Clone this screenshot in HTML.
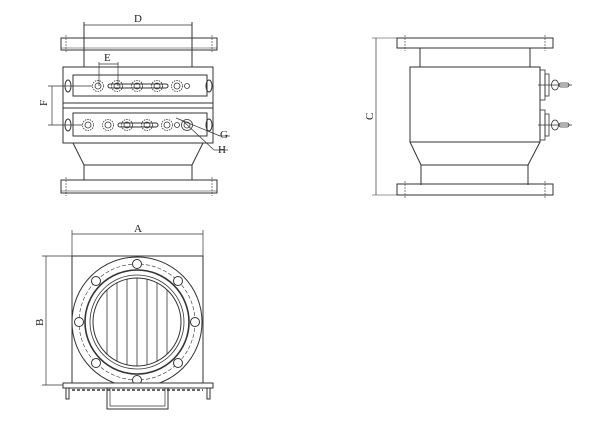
<!DOCTYPE html>
<html><head><meta charset="utf-8"><style>
html,body{margin:0;padding:0;background:#fff;width:600px;height:424px;overflow:hidden}
svg{display:block}
text{font-family:"Liberation Serif",serif;font-size:11px;fill:#222}
</style></head><body>
<svg width="600" height="424" viewBox="0 0 600 424" xmlns="http://www.w3.org/2000/svg">
<g fill="none" stroke="#333" stroke-width="1">
<!-- FRONT VIEW -->
<line x1="84" y1="22" x2="84" y2="67"/><line x1="192" y1="22" x2="192" y2="67"/>
<line x1="84" y1="25" x2="192" y2="25" stroke-width="0.7"/>
<rect x="61" y="38" width="156" height="12"/>
<line x1="66" y1="35" x2="66" y2="53" stroke-dasharray="2,1" stroke-width="0.6"/>
<line x1="212" y1="35" x2="212" y2="53" stroke-dasharray="2,1" stroke-width="0.6"/>
<line x1="61" y1="48" x2="217" y2="48" stroke-width="0.5"/>
<rect x="63" y="67" width="150" height="76"/>
<rect x="73" y="75" width="134" height="21"/>
<line x1="63" y1="103" x2="213" y2="103"/><line x1="63" y1="108" x2="213" y2="108"/>
<rect x="73" y="113" width="134" height="23"/>
<ellipse cx="68" cy="86" rx="3" ry="6"/><ellipse cx="209" cy="86" rx="3" ry="6"/>
<ellipse cx="68" cy="125" rx="3" ry="6"/><ellipse cx="209" cy="125" rx="3" ry="6"/>
<rect x="108" y="84" width="60" height="4" rx="2"/>
<rect x="118" y="123" width="40" height="4" rx="2"/>
<g stroke-width="0.8">
<circle cx="98" cy="86" r="5.5" stroke-dasharray="1.5,1"/><circle cx="98" cy="86" r="3"/>
<circle cx="117" cy="86" r="5.5" stroke-dasharray="1.5,1"/><circle cx="117" cy="86" r="3"/>
<circle cx="137" cy="86" r="5.5" stroke-dasharray="1.5,1"/><circle cx="137" cy="86" r="3"/>
<circle cx="157" cy="86" r="5.5" stroke-dasharray="1.5,1"/><circle cx="157" cy="86" r="3"/>
<circle cx="177" cy="86" r="5.5" stroke-dasharray="1.5,1"/><circle cx="177" cy="86" r="3"/>
<circle cx="187" cy="86" r="2.5"/>
<circle cx="88" cy="125" r="5.5" stroke-dasharray="1.5,1"/><circle cx="88" cy="125" r="3"/>
<circle cx="108" cy="125" r="5.5" stroke-dasharray="1.5,1"/><circle cx="108" cy="125" r="3"/>
<circle cx="127" cy="125" r="5.5" stroke-dasharray="1.5,1"/><circle cx="127" cy="125" r="3"/>
<circle cx="147" cy="125" r="5.5" stroke-dasharray="1.5,1"/><circle cx="147" cy="125" r="3"/>
<circle cx="167" cy="125" r="5.5" stroke-dasharray="1.5,1"/><circle cx="167" cy="125" r="3"/>
<circle cx="177" cy="125" r="2.5"/>
<circle cx="187" cy="125" r="5.5"/><circle cx="187" cy="125" r="3"/>
</g>
<line x1="99" y1="62" x2="99" y2="86" stroke-width="0.7"/><line x1="118" y1="62" x2="118" y2="86" stroke-width="0.7"/>
<line x1="99" y1="64" x2="118" y2="64" stroke-width="0.7"/>
<line x1="52" y1="86" x2="52" y2="125" stroke-width="0.7"/>
<line x1="48" y1="86" x2="92" y2="86" stroke-width="0.7"/><line x1="48" y1="125" x2="82" y2="125" stroke-width="0.7"/>
<line x1="176" y1="118" x2="220" y2="136" stroke-width="0.7"/>
<line x1="183" y1="121" x2="214" y2="150" stroke-width="0.7"/>
<line x1="220" y1="136" x2="230" y2="136" stroke-width="0.7"/>
<line x1="214" y1="150" x2="228" y2="150" stroke-width="0.7"/>
<polyline points="73,143 84,165 84,180"/><polyline points="203,143 192,165 192,180"/>
<line x1="84" y1="165" x2="192" y2="165"/>
<rect x="61" y="180" width="156" height="13"/>
<line x1="66" y1="177" x2="66" y2="196" stroke-dasharray="2,1" stroke-width="0.6"/>
<line x1="212" y1="177" x2="212" y2="196" stroke-dasharray="2,1" stroke-width="0.6"/>
<line x1="61" y1="191" x2="217" y2="191" stroke-width="0.5"/>
<!-- SIDE VIEW -->
<line x1="376" y1="38" x2="376" y2="195" stroke-width="0.7"/>
<line x1="372" y1="38" x2="400" y2="38" stroke-width="0.6"/><line x1="372" y1="195" x2="400" y2="195" stroke-width="0.6"/>
<rect x="397" y="38" width="156" height="10"/>
<line x1="405" y1="35" x2="405" y2="51" stroke-dasharray="2,1" stroke-width="0.6"/>
<line x1="545" y1="35" x2="545" y2="51" stroke-dasharray="2,1" stroke-width="0.6"/>
<line x1="420" y1="48" x2="420" y2="67"/><line x1="530" y1="48" x2="530" y2="67"/>
<rect x="410" y="67" width="130" height="75"/>
<polyline points="410,142 421,165 421,185"/><polyline points="540,142 528,165 528,185"/>
<line x1="421" y1="165" x2="528" y2="165"/>
<rect x="397" y="184" width="156" height="11"/>
<line x1="405" y1="181" x2="405" y2="198" stroke-dasharray="2,1" stroke-width="0.6"/>
<line x1="545" y1="181" x2="545" y2="198" stroke-dasharray="2,1" stroke-width="0.6"/>
<g stroke-width="0.8">
<rect x="540" y="70" width="5" height="30"/><rect x="545" y="74" width="4" height="22"/>
<rect x="540" y="110" width="5" height="30"/><rect x="545" y="114" width="4" height="22"/>
<line x1="538" y1="85" x2="572" y2="85"/><line x1="538" y1="125" x2="572" y2="125"/>
<ellipse cx="555" cy="85" rx="3.5" ry="5"/><ellipse cx="555" cy="125" rx="3.5" ry="5"/>
<rect x="559" y="83" width="10" height="4" rx="2"/><rect x="559" y="123" width="10" height="4" rx="2"/>
</g>
<!-- BOTTOM VIEW -->
<line x1="72" y1="230" x2="72" y2="256" stroke-width="0.7"/><line x1="203" y1="230" x2="203" y2="256" stroke-width="0.7"/>
<line x1="72" y1="234" x2="203" y2="234" stroke-width="0.7"/>
<line x1="46" y1="256" x2="46" y2="385" stroke-width="0.7"/>
<line x1="42" y1="256" x2="72" y2="256" stroke-width="0.7"/><line x1="42" y1="385" x2="72" y2="385" stroke-width="0.7"/>
<rect x="72" y="256" width="131" height="128"/>
<circle cx="137" cy="322" r="65" fill="#fff"/>
<circle cx="137" cy="322" r="58" stroke-dasharray="4,2" stroke-width="0.6"/>
<circle cx="137" cy="322" r="52" stroke-width="1.6"/>
<circle cx="137" cy="322" r="47" stroke-width="0.8"/>
<circle cx="137" cy="322" r="44"/>
<g stroke-width="0.8">
<line x1="107" y1="290" x2="107" y2="354"/><line x1="117" y1="283" x2="117" y2="361"/>
<line x1="127" y1="279" x2="127" y2="365"/><line x1="137" y1="278" x2="137" y2="366"/>
<line x1="147" y1="279" x2="147" y2="365"/><line x1="157" y1="283" x2="157" y2="361"/>
<line x1="167" y1="290" x2="167" y2="354"/>
</g>
<g fill="#fff">
<circle cx="137" cy="264" r="4.5"/><circle cx="137" cy="380" r="4.5"/>
<circle cx="79" cy="322" r="4.5"/><circle cx="195" cy="322" r="4.5"/>
<circle cx="96" cy="281" r="4.5"/><circle cx="178" cy="281" r="4.5"/>
<circle cx="96" cy="363" r="4.5"/><circle cx="178" cy="363" r="4.5"/>
</g>
<rect x="63" y="383" width="150" height="5" fill="#fff"/>
<line x1="72" y1="390" x2="203" y2="390" stroke-dasharray="3,2" stroke-width="1.5"/>
<rect x="66" y="388" width="3" height="11"/><rect x="207" y="388" width="3" height="11"/>
<polyline points="107,388 107,409 168,409 168,388"/>
<polyline points="110,388 110,406 165,406 165,388" stroke-width="0.7"/>
</g>
<text x="134" y="22">D</text>
<text x="104" y="61">E</text>
<text x="220" y="138">G</text>
<text x="218" y="153">H</text>
<text x="134" y="232">A</text>
<text transform="translate(47,106) rotate(-90)">F</text>
<text transform="translate(373,120) rotate(-90)">C</text>
<text transform="translate(43,326) rotate(-90)">B</text>
</svg>
</body></html>
